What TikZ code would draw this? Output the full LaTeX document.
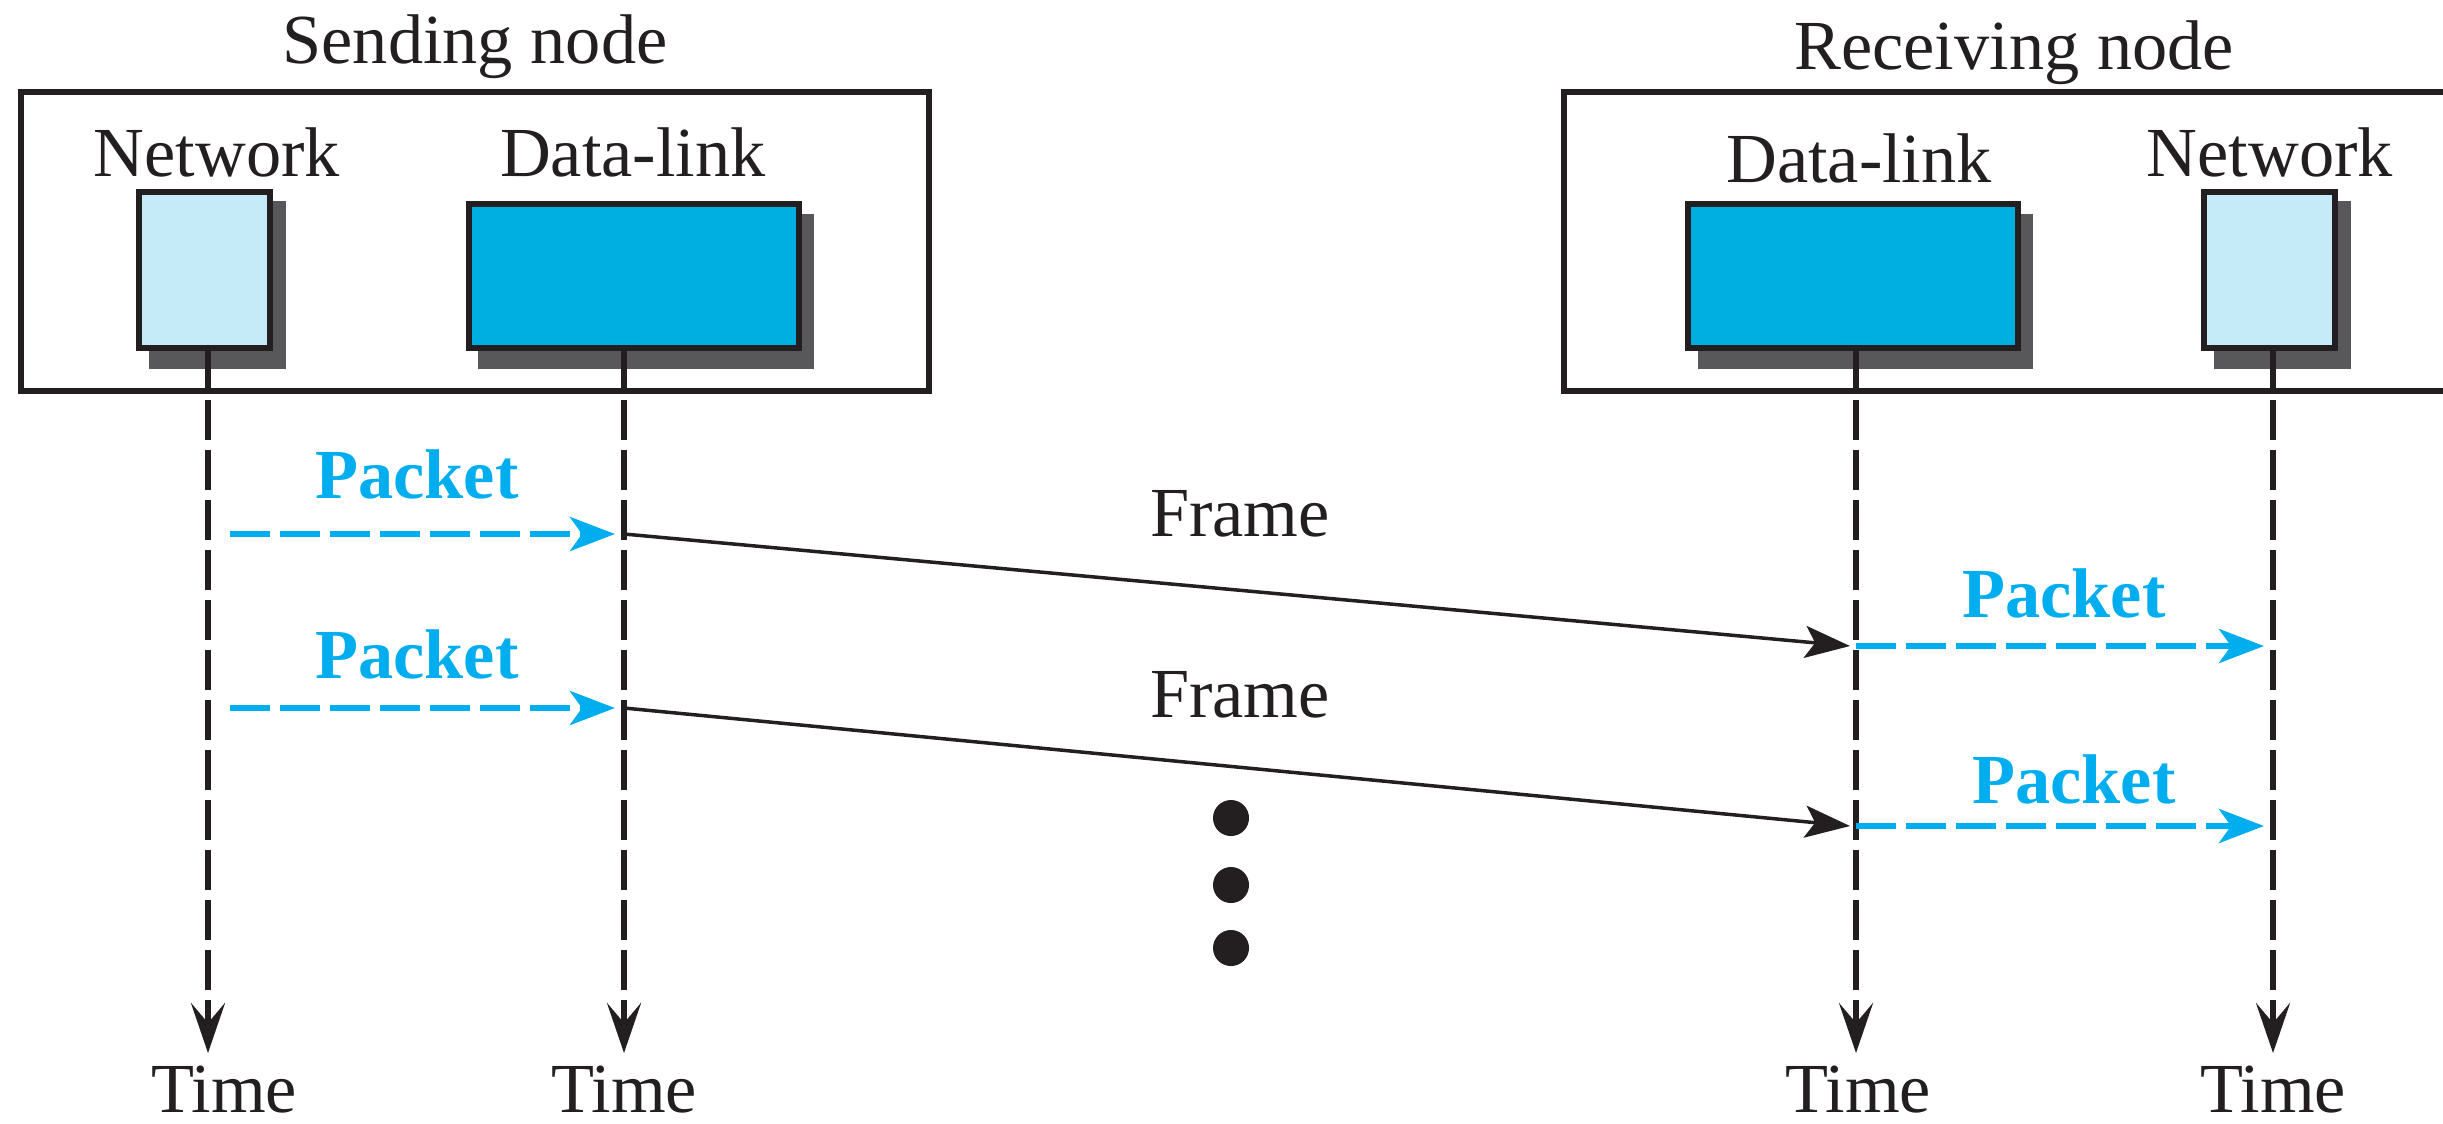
\documentclass[tikz,border=0pt]{standalone}
\usepackage{fontspec}
\setmainfont{Liberation Serif}
\usetikzlibrary{arrows.meta}
\definecolor{ink}{HTML}{231F20}
\definecolor{pktcyan}{HTML}{00AEEF}
\definecolor{dlfill}{HTML}{00AFE2}
\definecolor{netfill}{HTML}{C5EAF8}
\definecolor{shadowgray}{HTML}{58585A}
\begin{document}
\begin{tikzpicture}[x=0.01cm,y=-0.01cm,
  lbl/.style={anchor=base, inner sep=0pt, font=\fontsize{20}{24}\selectfont, text=ink},
  pkt/.style={anchor=base, inner sep=0pt, font=\fontsize{20}{24}\selectfont\bfseries, text=pktcyan},
  framebox/.style={draw=ink, line width=0.06cm, inner sep=0pt, outer sep=0pt, rectangle},
  layerbox/.style={draw=ink, line width=0.06cm, inner sep=0pt, outer sep=0pt, rectangle},
  netbox/.style={layerbox, fill=netfill, minimum width=1.31cm, minimum height=1.56cm},
  dlbox/.style={layerbox, fill=dlfill, minimum width=3.30cm, minimum height=1.44cm},
  boxshadow/.style={fill=shadowgray, draw=none},
  solidline/.style={draw=ink, line width=0.06cm},
  timeline/.style={draw=ink, line width=0.06cm, dash pattern=on 0.4cm off 0.1cm,
    -{Stealth[length=0.5cm,width=0.34cm,inset=0.2cm]}},
  pktarrow/.style={draw=pktcyan, line width=0.06cm, dash pattern=on 0.4cm off 0.1cm,
    -{Stealth[length=0.45cm,width=0.34cm,inset=0.12cm]}},
  framearrow/.style={draw=ink, line width=0.035cm,
    -{Stealth[length=0.45cm,width=0.32cm,inset=0.1cm]}},
  dotnode/.style={circle, fill=ink, inner sep=0pt, minimum size=0.36cm}
]
\useasboundingbox (0,0) rectangle (2443,1123);

% titles
\node[lbl] (sendT) at (475,63) {Sending node};
\node[lbl] (recvT) at (2014,69) {Receiving node};

% outer node frames
\node[framebox, minimum width=9.08cm, minimum height=2.99cm] (send) at (475,241.5) {};
\node[framebox, minimum width=8.86cm, minimum height=2.99cm] (recv) at (2007,241.5) {};

% layer labels
\node[lbl] (netLl) at (217,176) {Network};
\node[lbl] (dlLl) at (633,176) {Data-link};
\node[lbl] (dlRl) at (1859,182) {Data-link};
\node[lbl] (netRl) at (2270,176) {Network};

% shadows
\path[boxshadow] (149,201) rectangle (286,369);
\path[boxshadow] (478,214) rectangle (814,369);
\path[boxshadow] (1698,214) rectangle (2033,369);
\path[boxshadow] (2214,201) rectangle (2351,369);

% layer boxes
\node[netbox] (netL) at (204.5,270) {};
\node[dlbox] (dlL) at (634,276) {};
\node[dlbox] (dlR) at (1853,276) {};
\node[netbox] (netR) at (2269.5,270) {};

% time line coordinates
\coordinate (a1) at (208,348);  \coordinate (b1) at (208,391);  \coordinate (s1) at (208,400);  \coordinate (e1) at (208,1053);
\coordinate (a2) at (624,348);  \coordinate (b2) at (624,391);  \coordinate (s2) at (624,400);  \coordinate (e2) at (624,1053);
\coordinate (a3) at (1856,348); \coordinate (b3) at (1856,391); \coordinate (s3) at (1856,400); \coordinate (e3) at (1856,1053);
\coordinate (a4) at (2273,348); \coordinate (b4) at (2273,391); \coordinate (s4) at (2273,400); \coordinate (e4) at (2273,1053);

\draw[solidline] (a1) -- (b1);
\draw[solidline] (a2) -- (b2);
\draw[solidline] (a3) -- (b3);
\draw[solidline] (a4) -- (b4);
\draw[timeline] (s1) -- (e1);
\draw[timeline] (s2) -- (e2);
\draw[timeline] (s3) -- (e3);
\draw[timeline] (s4) -- (e4);

% time labels
\node[lbl] (time1) at (224,1112) {Time};
\node[lbl] (time2) at (624,1112) {Time};
\node[lbl] (time3) at (1858,1112) {Time};
\node[lbl] (time4) at (2273,1112) {Time};

% packet arrows
\coordinate (p1s) at (230,534);  \coordinate (p1e) at (615,534);
\coordinate (p2s) at (230,708);  \coordinate (p2e) at (615,708);
\coordinate (p3s) at (1856,646); \coordinate (p3e) at (2264,646);
\coordinate (p4s) at (1856,826); \coordinate (p4e) at (2264,826);
\draw[pktarrow] (p1s) -- (p1e);
\draw[pktarrow] (p2s) -- (p2e);
\draw[pktarrow] (p3s) -- (p3e);
\draw[pktarrow] (p4s) -- (p4e);
\node[pkt] (pk1) at (417,498) {Packet};
\node[pkt] (pk2) at (417,678) {Packet};
\node[pkt] (pk3) at (2064,617) {Packet};
\node[pkt] (pk4) at (2074,803) {Packet};

% frame arrows
\coordinate (f1s) at (624,534);  \coordinate (f1e) at (1850,646);
\coordinate (f2s) at (624,708);  \coordinate (f2e) at (1850,826);
\draw[framearrow] (f1s) -- (f1e);
\draw[framearrow] (f2s) -- (f2e);
\node[lbl] (fr1) at (1240,536) {Frame};
\node[lbl] (fr2) at (1240,717) {Frame};

% ellipsis dots
\node[dotnode] (d1) at (1231,818) {};
\node[dotnode] (d2) at (1231,885) {};
\node[dotnode] (d3) at (1231,948) {};
\end{tikzpicture}
\end{document}
